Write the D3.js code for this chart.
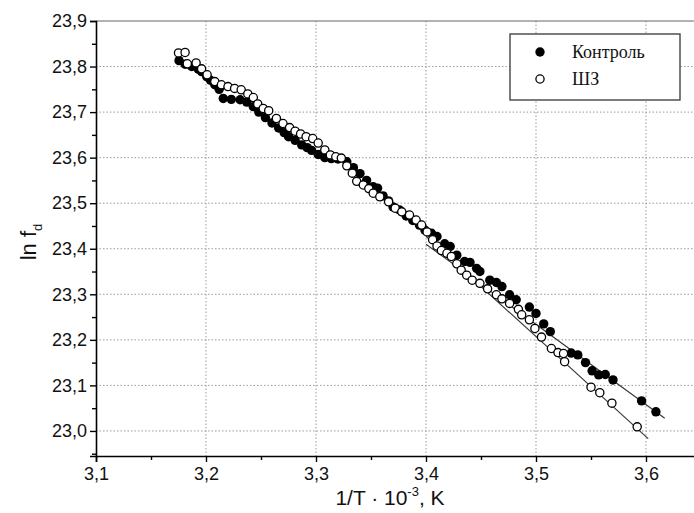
<!DOCTYPE html>
<html><head><meta charset="utf-8">
<script src="https://cdn.jsdelivr.net/npm/d3@7"></script>
<style>body{margin:0;background:#fff}svg{display:block}</style>
</head><body>
<svg id="chart" width="694" height="513"></svg>
<script>
// Data: x = 1/T·10^-3 (K), y = ln f_d
const controlX = [3.1755,3.181,3.187,3.193,3.196,3.2006,3.204,3.208,3.212,3.2157,3.223,3.231,3.237,3.243,3.248,3.254,3.260,3.266,3.271,3.275,3.281,3.287,3.292,3.296,3.302,3.308,3.314,3.320,3.328,3.334,3.340,3.346,3.352,3.356,3.361,3.366,3.370,3.376,3.382,3.388,3.394,3.399,3.405,3.410,3.417,3.422,3.428,3.435,3.440,3.446,3.449,3.458,3.464,3.469,3.476,3.482,3.494,3.500,3.507,3.513,3.532,3.538,3.545,3.551,3.557,3.563,3.570,3.596,3.609];
const controlY = [23.813,23.805,23.800,23.794,23.789,23.778,23.770,23.760,23.750,23.730,23.728,23.727,23.722,23.712,23.700,23.688,23.676,23.665,23.655,23.646,23.638,23.628,23.622,23.616,23.607,23.600,23.598,23.597,23.591,23.578,23.565,23.550,23.536,23.533,23.516,23.505,23.492,23.485,23.472,23.462,23.452,23.441,23.434,23.427,23.411,23.405,23.386,23.372,23.370,23.357,23.350,23.331,23.326,23.317,23.299,23.288,23.272,23.258,23.235,23.218,23.171,23.167,23.150,23.132,23.123,23.124,23.112,23.066,23.042];
const szX = [3.175,3.181,3.183,3.191,3.196,3.201,3.208,3.214,3.220,3.226,3.232,3.238,3.243,3.247,3.252,3.257,3.264,3.270,3.276,3.281,3.286,3.291,3.297,3.302,3.308,3.313,3.318,3.323,3.328,3.333,3.337,3.343,3.348,3.352,3.358,3.366,3.372,3.378,3.385,3.391,3.396,3.401,3.406,3.410,3.414,3.419,3.423,3.428,3.432,3.437,3.442,3.449,3.456,3.464,3.469,3.476,3.484,3.487,3.494,3.499,3.505,3.514,3.520,3.525,3.526,3.550,3.558,3.569,3.592];
const szY = [23.830,23.831,23.806,23.808,23.795,23.782,23.767,23.760,23.756,23.752,23.749,23.740,23.732,23.718,23.708,23.703,23.686,23.675,23.666,23.658,23.652,23.646,23.642,23.632,23.617,23.606,23.602,23.599,23.582,23.566,23.548,23.540,23.532,23.522,23.514,23.503,23.489,23.481,23.474,23.463,23.452,23.437,23.420,23.406,23.396,23.390,23.383,23.367,23.353,23.342,23.331,23.324,23.312,23.299,23.290,23.280,23.267,23.255,23.244,23.225,23.206,23.181,23.172,23.170,23.152,23.096,23.084,23.061,23.009];
// Linear fit lines (endpoints)
const fitControlX = [3.40, 3.617];
const fitControlY = [23.410, 23.028];
const fitSzX = [3.40, 3.602];
const fitSzY = [23.427, 22.983];
// Ticks
const xMajor = [3.1,3.2,3.3,3.4,3.5,3.6];
const xMinor = [3.15,3.25,3.35,3.45,3.55,3.65];
const yMajor = [23.0,23.1,23.2,23.3,23.4,23.5,23.6,23.7,23.8,23.9];
const yMinor = [22.95,23.05,23.15,23.25,23.35,23.45,23.55,23.65,23.75,23.85];
const seriesNames = ["Контроль", "ШЗ"];

const svg = d3.select("#chart");
const L = 96, T = 21, B = 456;
const x = d3.scaleLinear().domain([3.1, 3.65]).range([L, L + 605]);
const y = d3.scaleLinear().domain([22.945, 23.9]).range([B, T]);
const fmt = v => d3.format(".1f")(v).replace(".", ",");
const SANS = "Liberation Sans, Arial, sans-serif";

// grid
const grid = svg.append("g");
grid.selectAll("line.gx").data(xMajor.slice(1)).join("line")
  .attr("x1", d => x(d)).attr("x2", d => x(d)).attr("y1", T).attr("y2", B)
  .attr("stroke", "#9a9a9a").attr("stroke-width", 1).attr("stroke-dasharray", "1.5,2");
grid.selectAll("line.gy").data(yMajor.slice(0, -1)).join("line")
  .attr("x1", L).attr("x2", 694).attr("y1", d => y(d)).attr("y2", d => y(d))
  .attr("stroke", "#9a9a9a").attr("stroke-width", 1).attr("stroke-dasharray", "1.5,2");
// top frame
svg.append("line").attr("x1", L).attr("x2", 694).attr("y1", y(23.9)).attr("y2", y(23.9))
  .attr("stroke", "#666").attr("stroke-width", 1.2);

// axes
svg.append("g").attr("transform", `translate(0,${B})`)
  .call(d3.axisBottom(x).tickValues(xMajor).tickFormat(fmt).tickSize(6).tickPadding(5));
svg.append("g").attr("transform", `translate(0,${B})`)
  .call(d3.axisBottom(x).tickValues(xMinor).tickFormat("").tickSize(4))
  .call(g => g.select(".domain").remove());
svg.append("g").attr("transform", `translate(${L},0)`)
  .call(d3.axisLeft(y).tickValues(yMajor).tickFormat(fmt).tickSize(6).tickPadding(3));
svg.append("g").attr("transform", `translate(${L},0)`)
  .call(d3.axisLeft(y).tickValues(yMinor).tickFormat("").tickSize(4))
  .call(g => g.select(".domain").remove());
svg.selectAll(".domain").attr("stroke", "#000").attr("stroke-width", 1.6);
svg.selectAll(".tick line").attr("stroke", "#000").attr("stroke-width", 1.4);
svg.selectAll(".tick text").attr("font-family", SANS).style("font-size", "18px").attr("fill", "#111");

// axis titles
const xt = svg.append("text").attr("x", 390).attr("y", 505).attr("text-anchor", "middle")
  .attr("font-family", SANS).attr("font-size", 21).attr("fill", "#111");
xt.append("tspan").text("1/T · 10");
xt.append("tspan").attr("dy", -9).attr("font-size", 13).text("-3");
xt.append("tspan").attr("dy", 9).text(", K");
const yt = svg.append("text").attr("transform", "translate(36,242) rotate(-90)").attr("text-anchor", "middle")
  .attr("font-family", SANS).attr("font-size", 22).attr("fill", "#111");
yt.append("tspan").text("ln f");
yt.append("tspan").attr("dy", 6).attr("font-size", 13).text("d");

// fit lines
const line = d3.line().x(d => x(d[0])).y(d => y(d[1]));
svg.append("path").datum(d3.zip(fitControlX, fitControlY)).attr("d", line)
  .attr("fill", "none").attr("stroke", "#333").attr("stroke-width", 1.1);
svg.append("path").datum(d3.zip(fitSzX, fitSzY)).attr("d", line)
  .attr("fill", "none").attr("stroke", "#333").attr("stroke-width", 1.1);

// points
const R = 4.7;
svg.append("g").selectAll("circle").data(d3.zip(controlX, controlY)).join("circle")
  .attr("cx", d => x(d[0])).attr("cy", d => y(d[1])).attr("r", R).attr("fill", "#000");
svg.append("g").selectAll("circle").data(d3.zip(szX, szY)).join("circle")
  .attr("cx", d => x(d[0])).attr("cy", d => y(d[1])).attr("r", R - 0.6)
  .attr("fill", "#fff").attr("stroke", "#000").attr("stroke-width", 1.3);

// legend
const lg = svg.append("g");
lg.append("rect").attr("x", 510).attr("y", 34).attr("width", 170).attr("height", 66)
  .attr("fill", "#fff").attr("stroke", "#444").attr("stroke-width", 1.4);
lg.append("circle").attr("cx", 540).attr("cy", 52).attr("r", R).attr("fill", "#000");
lg.append("circle").attr("cx", 540).attr("cy", 79).attr("r", R - 0.6)
  .attr("fill", "#fff").attr("stroke", "#000").attr("stroke-width", 1.3);
lg.selectAll("text").data(seriesNames).join("text")
  .attr("x", 572).attr("y", (d, i) => 58 + i * 27).text(d => d)
  .attr("font-family", "Liberation Serif, Times New Roman, serif").attr("font-size", 18).attr("fill", "#111");
</script>
</body></html>
